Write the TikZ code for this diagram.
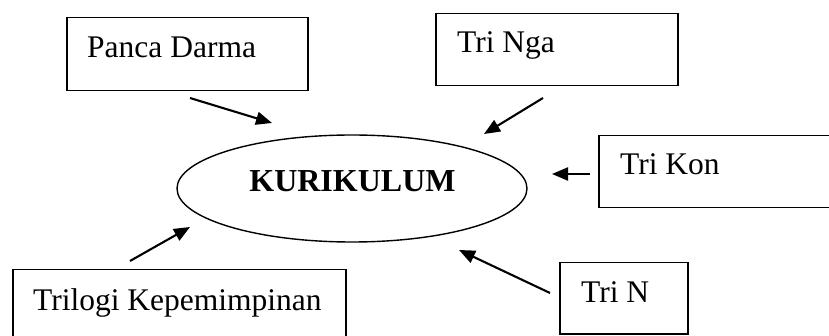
\documentclass[tikz,border=0pt]{standalone}
\usepackage{fontspec}
\setmainfont{Liberation Serif}
\usetikzlibrary{arrows.meta,shapes.geometric}
\tikzset{
  boxnode/.style={draw,line width=1.5pt,rectangle,inner sep=0pt,anchor=north west},
  lbl/.style={anchor=base west,inner sep=0pt,font=\fontsize{31.5}{36}\selectfont},
  arr/.style={line width=2.1pt,-{Triangle[length=16pt,width=13pt]}}
}
\begin{document}
\begin{tikzpicture}[x=1pt,y=-1pt]
\useasboundingbox (0,0) rectangle (829,336);
% boxes
\node[boxnode,minimum width=241pt,minimum height=73pt] (pancabox) at (66,17) {};
\node[boxnode,minimum width=242pt,minimum height=72pt] (ngabox) at (435,13) {};
\node[boxnode,minimum width=245pt,minimum height=72pt] (konbox) at (598,135) {};
\node[boxnode,minimum width=333pt,minimum height=76pt] (trilbox) at (12,269) {};
\node[boxnode,minimum width=128pt,minimum height=71pt] (trinbox) at (559,262) {};
% labels
\node[lbl] (panca) at (87,58) {Panca Darma};
\node[lbl] (nga) at (457,53) {Tri Nga};
\node[lbl] (kon) at (620,175) {Tri Kon};
\node[lbl] (tril) at (33,310) {Trilogi Kepemimpinan};
\node[lbl] (trin) at (581,302) {Tri N};
% ellipse
\node[draw,ellipse,line width=1.4pt,minimum width=350pt,minimum height=107pt,inner sep=0pt] (kur) at (352,188.5) {};
\node[anchor=base,inner sep=0pt,font=\fontsize{32}{36}\selectfont\bfseries] (kurtext) at (352.5,192) {KURIKULUM};
% arrow ends
\coordinate (a1s) at (190,98);  \coordinate (a1e) at (272,123);
\coordinate (a2s) at (543,98);  \coordinate (a2e) at (484,134);
\coordinate (a3s) at (590,174); \coordinate (a3e) at (552,174);
\coordinate (a4s) at (130,261); \coordinate (a4e) at (190,227);
\coordinate (a5s) at (550,293); \coordinate (a5e) at (459,250);
\draw[arr] (a1s) -- (a1e);
\draw[arr] (a2s) -- (a2e);
\draw[arr] (a3s) -- (a3e);
\draw[arr] (a4s) -- (a4e);
\draw[arr] (a5s) -- (a5e);
\end{tikzpicture}
\end{document}
